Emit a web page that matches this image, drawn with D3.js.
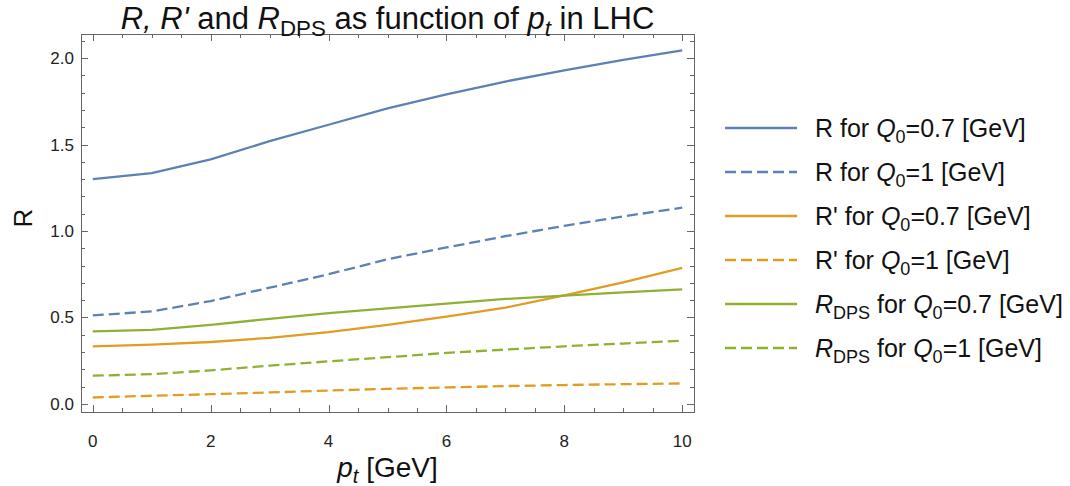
<!DOCTYPE html>
<html><head><meta charset="utf-8">
<script src="https://cdn.jsdelivr.net/npm/d3@7"></script>
<style>body{margin:0;background:#fff;} svg{display:block;font-family:"Liberation Sans",Arial,sans-serif;}</style>
</head><body>
<svg id="chart" width="1070" height="486"></svg>
<script>
const pt = [0,1,2,3,4,5,6,7,8,9,10];
const R_07    = [1.30,1.335,1.415,1.52,1.615,1.71,1.79,1.865,1.93,1.99,2.045];
const R_1     = [0.512,0.535,0.595,0.672,0.75,0.837,0.905,0.97,1.03,1.085,1.135];
const Rp_07   = [0.333,0.343,0.358,0.382,0.415,0.457,0.505,0.557,0.628,0.703,0.787];
const Rp_1    = [0.037,0.047,0.056,0.066,0.077,0.087,0.095,0.103,0.109,0.114,0.118];
const Rdps_07 = [0.419,0.428,0.457,0.492,0.525,0.552,0.58,0.607,0.626,0.645,0.662];
const Rdps_1  = [0.163,0.172,0.194,0.221,0.246,0.27,0.295,0.314,0.333,0.349,0.365];
const xMajor = [0,2,4,6,8,10];
const yMajor = [0.0,0.5,1.0,1.5,2.0];

const blue="#5E81B5", orange="#E19C24", green="#8FB032";
const DASH="11,5";
const series = [
  {vals:R_07, color:blue, dash:null, lab:[["R for ",""],["Q","i"],["0","s"],["=0.7 [GeV]",""]]},
  {vals:R_1, color:blue, dash:DASH, lab:[["R for ",""],["Q","i"],["0","s"],["=1 [GeV]",""]]},
  {vals:Rp_07, color:orange, dash:null, lab:[["R' for ",""],["Q","i"],["0","s"],["=0.7 [GeV]",""]]},
  {vals:Rp_1, color:orange, dash:DASH, lab:[["R' for ",""],["Q","i"],["0","s"],["=1 [GeV]",""]]},
  {vals:Rdps_07, color:green, dash:null, lab:[["R","i"],["DPS","s"],[" for ",""],["Q","i"],["0","s"],["=0.7 [GeV]",""]]},
  {vals:Rdps_1, color:green, dash:DASH, lab:[["R","i"],["DPS","s"],[" for ",""],["Q","i"],["0","s"],["=1 [GeV]",""]]}
];

const svg = d3.select("#chart");
const L=81, R=694, T=34, B=412;
const x = d3.scaleLinear().domain([-0.2,10.2]).range([L,R]);
const y = d3.scaleLinear().domain([-0.047,2.14]).range([B,T]);

const frameCol="#666";
svg.append("rect").attr("x",L+0.5).attr("y",T+0.5).attr("width",R-L).attr("height",B-T)
  .attr("fill","none").attr("stroke",frameCol).attr("stroke-width",1);

const xMinor = d3.range(0,10.01,0.5).filter(v=>!xMajor.includes(v));
const yMinor = d3.range(0,2.15,0.1).map(v=>+v.toFixed(1)).filter(v=>!yMajor.some(m=>Math.abs(m-v)<1e-6));
const g = svg.append("g").attr("stroke",frameCol).attr("stroke-width",1);
function tickX(v,len){const px=Math.round(x(v))+0.5;
  g.append("line").attr("x1",px).attr("x2",px).attr("y1",B).attr("y2",B-len);
  g.append("line").attr("x1",px).attr("x2",px).attr("y1",T).attr("y2",T+len);}
function tickY(v,len){const py=Math.round(y(v))+0.5;
  g.append("line").attr("y1",py).attr("y2",py).attr("x1",L).attr("x2",L+len);
  g.append("line").attr("y1",py).attr("y2",py).attr("x1",R).attr("x2",R-len);}
xMajor.forEach(v=>tickX(v,7)); xMinor.forEach(v=>tickX(v,4));
yMajor.forEach(v=>tickY(v,7)); yMinor.forEach(v=>tickY(v,4));

svg.append("g").selectAll("text").data(xMajor).join("text")
  .attr("x",d=>x(d)).attr("y",B+35).attr("text-anchor","middle")
  .attr("font-size",17).attr("fill","#222").text(d=>d);
svg.append("g").selectAll("text").data(yMajor).join("text")
  .attr("x",L-7).attr("y",d=>y(d)+6).attr("text-anchor","end")
  .attr("font-size",17).attr("fill","#222").text(d=>d.toFixed(1));

const line = d3.line().x((d,i)=>x(pt[i])).y(d=>y(d));
series.forEach(s=>{
  svg.append("path").datum(s.vals).attr("d",line).attr("fill","none")
    .attr("stroke",s.color).attr("stroke-width",2.3)
    .attr("stroke-dasharray",s.dash);
});

function rich(sel, parts, fs){
  parts.forEach(([t,st],i)=>{
    const prev = i>0 ? parts[i-1][1] : "";
    const ts = sel.append("tspan").text(t);
    if(st.includes("i")) ts.attr("font-style","italic");
    const sub = st.includes("s"), prevSub = prev.includes("s");
    if(sub){ ts.attr("font-size",fs*0.72); if(!prevSub) ts.attr("dy",fs*0.22); }
    else if(prevSub){ ts.attr("dy",-fs*0.22); }
  });
}

series.forEach((s,i)=>{
  const ly = 128 + i*44;
  svg.append("line").attr("x1",725).attr("x2",797).attr("y1",ly).attr("y2",ly)
    .attr("stroke",s.color).attr("stroke-width",2.3).attr("stroke-dasharray",s.dash);
  const t = svg.append("text").attr("x",815).attr("y",ly+9).attr("font-size",25).attr("fill","#111");
  rich(t, s.lab, 25);
});

const tt = svg.append("text").attr("x",(L+R)/2).attr("y",29).attr("text-anchor","middle")
  .attr("font-size",31).attr("fill","#111");
rich(tt, [["R, R'","i"],[" and ",""],["R","i"],["DPS","s"],[" as function of ",""],["p","i"],["t","is"],[" in LHC",""]], 31);

const xl = svg.append("text").attr("x",(L+R)/2).attr("y",477).attr("text-anchor","middle")
  .attr("font-size",28).attr("fill","#111");
rich(xl, [["p","i"],["t","is"],[" [GeV]",""]], 28);

svg.append("text").attr("transform","translate(32,218) rotate(-90)").attr("text-anchor","middle")
  .attr("font-size",26).attr("fill","#111").text("R");
</script>
</body></html>
